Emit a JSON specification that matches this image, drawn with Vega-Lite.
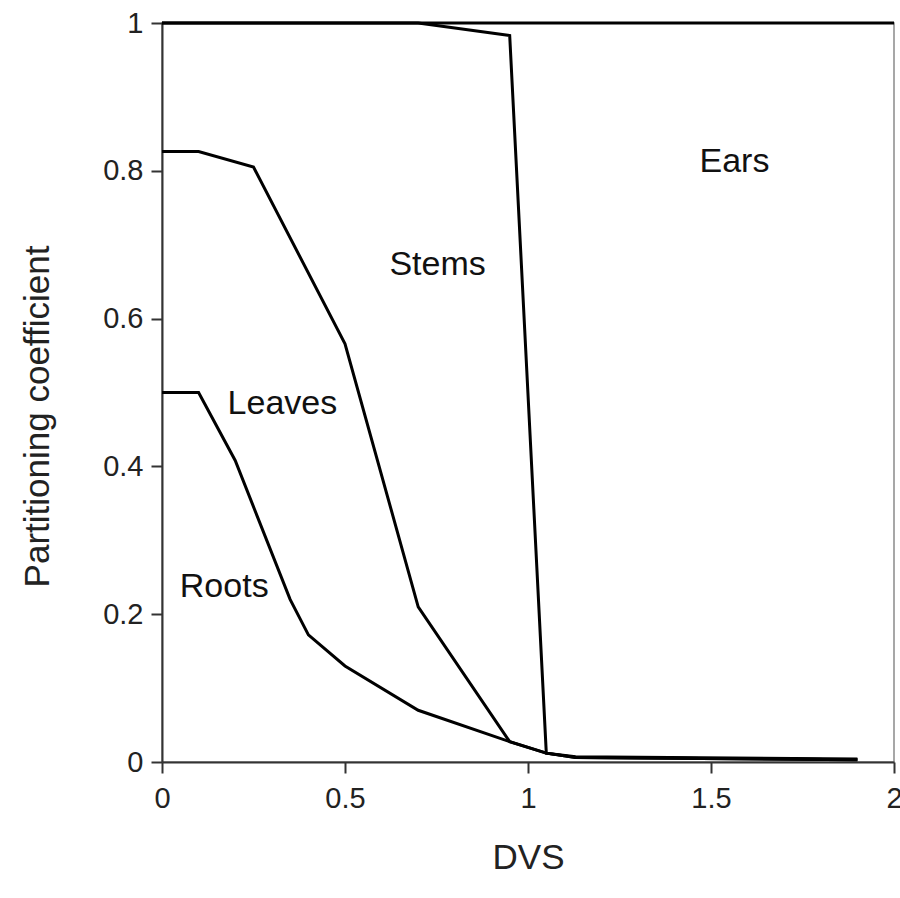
{
  "$schema": "https://vega.github.io/schema/vega-lite/v6.json",
  "width": 732,
  "height": 739,
  "autosize": "none",
  "padding": {"left": 162, "top": 23, "right": 6, "bottom": 136},
  "background": "white",
  "config": {
    "view": {"stroke": "#8a8a8a", "strokeWidth": 1.5},
    "font": "Liberation Sans"
  },
  "datasets": {
    "curves": [
      {"series": "Ears", "dvs": 0, "value": 1},
      {"series": "Ears", "dvs": 2, "value": 1},
      {"series": "Stems", "dvs": 0, "value": 1},
      {"series": "Stems", "dvs": 0.7, "value": 1},
      {"series": "Stems", "dvs": 0.95, "value": 0.983},
      {"series": "Stems", "dvs": 1.05, "value": 0.012},
      {"series": "Stems", "dvs": 1.13, "value": 0.007},
      {"series": "Stems", "dvs": 1.9, "value": 0.004},
      {"series": "Leaves", "dvs": 0, "value": 0.826},
      {"series": "Leaves", "dvs": 0.1, "value": 0.826},
      {"series": "Leaves", "dvs": 0.25, "value": 0.805},
      {"series": "Leaves", "dvs": 0.5, "value": 0.566},
      {"series": "Leaves", "dvs": 0.7, "value": 0.21},
      {"series": "Leaves", "dvs": 0.95, "value": 0.0275},
      {"series": "Leaves", "dvs": 1.05, "value": 0.012},
      {"series": "Leaves", "dvs": 1.13, "value": 0.006},
      {"series": "Leaves", "dvs": 1.9, "value": 0.003},
      {"series": "Roots", "dvs": 0, "value": 0.5},
      {"series": "Roots", "dvs": 0.1, "value": 0.5},
      {"series": "Roots", "dvs": 0.2, "value": 0.408},
      {"series": "Roots", "dvs": 0.35, "value": 0.22},
      {"series": "Roots", "dvs": 0.4, "value": 0.172},
      {"series": "Roots", "dvs": 0.5, "value": 0.13},
      {"series": "Roots", "dvs": 0.7, "value": 0.07},
      {"series": "Roots", "dvs": 0.95, "value": 0.0275},
      {"series": "Roots", "dvs": 1.05, "value": 0.012},
      {"series": "Roots", "dvs": 1.13, "value": 0.006},
      {"series": "Roots", "dvs": 1.9, "value": 0.003}
    ],
    "labels": [
      {"label": "Ears", "dvs": 1.564, "value": 0.812},
      {"label": "Stems", "dvs": 0.753, "value": 0.672},
      {"label": "Leaves", "dvs": 0.329, "value": 0.484},
      {"label": "Roots", "dvs": 0.17, "value": 0.237}
    ]
  },
  "layer": [
    {
      "data": {"name": "curves"},
      "mark": {"type": "line", "color": "black", "strokeWidth": 3, "strokeJoin": "miter", "clip": false},
      "encoding": {
        "x": {
          "field": "dvs", "type": "quantitative",
          "scale": {"domain": [0, 2], "nice": false, "zero": false},
          "axis": {
            "title": "DVS", "values": [0, 0.5, 1, 1.5, 2], "format": "~g",
            "grid": false, "domainColor": "#333", "domainWidth": 2,
            "tickColor": "#333", "tickWidth": 2, "tickSize": 11,
            "labelFontSize": 29, "labelColor": "#222", "labelPadding": 11,
            "labelFont": "Liberation Sans", "labelFlush": false, "labelOverlap": false,
            "titleFontSize": 35, "titleFontWeight": "normal", "titleColor": "#222",
            "titleFont": "Liberation Sans", "titleY": 95, "titleBaseline": "middle"
          }
        },
        "y": {
          "field": "value", "type": "quantitative",
          "scale": {"domain": [0, 1], "nice": false},
          "axis": {
            "title": "Partitioning coefficient", "values": [0, 0.2, 0.4, 0.6, 0.8, 1], "format": "~g",
            "grid": false, "domainColor": "#333", "domainWidth": 2,
            "tickColor": "#333", "tickWidth": 2, "tickSize": 11,
            "labelFontSize": 29, "labelColor": "#222", "labelPadding": 8,
            "labelFont": "Liberation Sans", "labelFlush": false, "labelOverlap": false,
            "titleFontSize": 35, "titleFontWeight": "normal", "titleColor": "#222",
            "titleFont": "Liberation Sans", "titleX": -125, "titleY": 393,
            "titleBaseline": "middle", "titleAlign": "center", "titleAngle": -90
          }
        },
        "detail": {"field": "series"}
      }
    },
    {
      "data": {"name": "labels"},
      "mark": {"type": "text", "fontSize": 34, "font": "Liberation Sans", "color": "#111", "align": "center", "baseline": "middle"},
      "encoding": {
        "x": {"field": "dvs", "type": "quantitative"},
        "y": {"field": "value", "type": "quantitative"},
        "text": {"field": "label"}
      }
    }
  ]
}
